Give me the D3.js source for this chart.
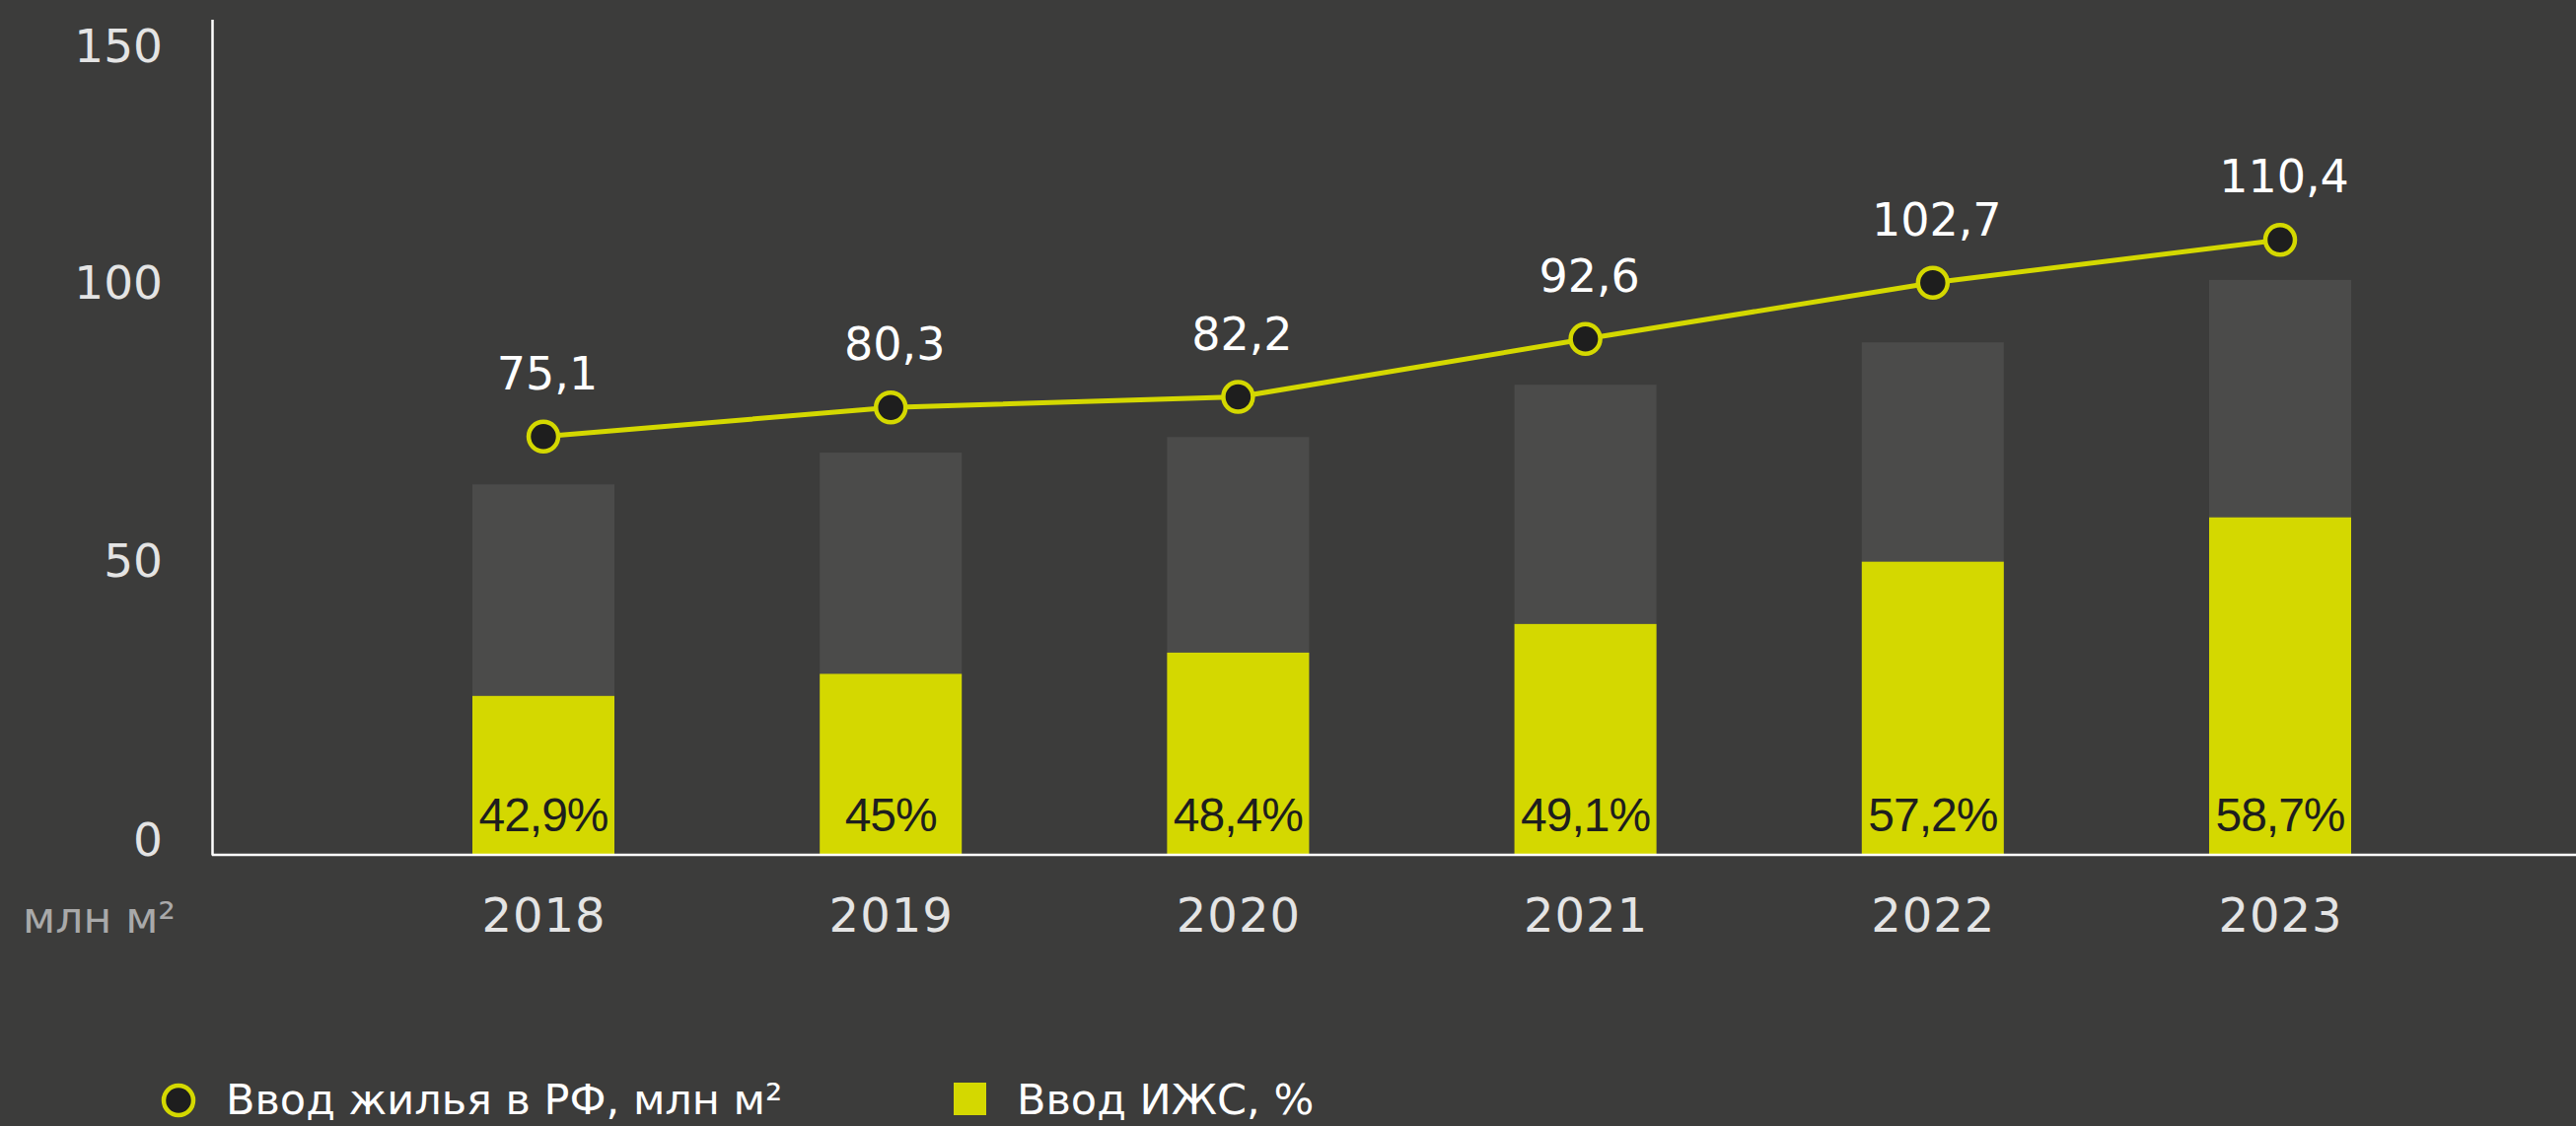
<!DOCTYPE html>
<html>
    <head>
        <meta charset="utf-8">
        <title>Ввод жилья в РФ</title>
        <script src="https://d3js.org/d3.v7.min.js"></script>
        <style>
            body { margin: 0; background: #3c3c3b; }
        </style>
    </head>
    <body>
        <script>
            const width = 2612;
            const height = 1142;

            // data
            const years = ["2018", "2019", "2020", "2021", "2022", "2023"];
            const housing = [75.1, 80.3, 82.2, 92.6, 102.7, 110.4];      // млн м²
            const barTotals = [66.5, 72.2, 75.0, 84.4, 92.0, 103.2];     // grey bar height, axis units
            const ihsShare = [42.9, 45, 48.4, 49.1, 57.2, 58.7];         // %
            const yTicks = [0, 50, 100, 150];

            const rows = years.map((y, i) => ({
                year: y, housing: housing[i], total: barTotals[i], share: ihsShare[i]
            }));

            const yellow = "#d4d800";
            const barGrey = "#4b4b4a";
            const dark = "#1e1e1e";

            const ru = d3.formatLocale({decimal: ",", thousands: " ", grouping: [3], currency: ["", " ₽"]});
            const fmtVal = ru.format(".1f");
            const fmtPct = ru.format(".1~f");

            const svg = d3.select("body").append("svg")
                .attr("width", width)
                .attr("height", height)
                .style("background-color", "#3c3c3b")
                .style("display", "block")
            ;

            const x = d3.scalePoint().domain(years).range([551, 2312]);
            const y = d3.scaleLinear().domain([0, 150]).range([867, 19.5]);
            const axisX = 215;
            const barW = 144;

            // y axis
            const gy = svg.append("g")
                .attr("transform", `translate(${axisX},0)`)
                .call(d3.axisLeft(y).tickValues(yTicks).tickSize(0).tickSizeOuter(0).tickPadding(50))
            ;
            gy.select(".domain").attr("stroke", "#ffffff").attr("stroke-width", 2.5);
            gy.selectAll("text")
                .attr("dy", 0)
                .attr("y", d => d === 150 ? 43 : 0)
                .attr("fill", "#e4e4e4")
                .style("font-family", "DejaVu Sans")
                .style("font-size", "47px")
            ;

            // bars
            const bars = svg.append("g");
            bars.selectAll("rect.total")
                .data(rows).join("rect")
                .attr("class", "total")
                .attr("x", d => x(d.year) - barW / 2)
                .attr("width", barW)
                .attr("y", d => y(d.total))
                .attr("height", d => y(0) - y(d.total))
                .attr("fill", barGrey)
            ;
            bars.selectAll("rect.ihs")
                .data(rows).join("rect")
                .attr("class", "ihs")
                .attr("x", d => x(d.year) - barW / 2)
                .attr("width", barW)
                .attr("y", d => y(d.total * d.share / 100))
                .attr("height", d => y(0) - y(d.total * d.share / 100))
                .attr("fill", yellow)
            ;
            bars.selectAll("text")
                .data(rows).join("text")
                .attr("x", d => x(d.year))
                .attr("y", y(0) - 24)
                .attr("text-anchor", "middle")
                .attr("fill", dark)
                .style("font-family", "Liberation Sans")
                .style("font-size", "48px")
                .style("letter-spacing", "-1px")
                .text(d => fmtPct(d.share) + "%")
            ;

            // x axis
            svg.append("line")
                .attr("x1", axisX).attr("x2", width)
                .attr("y1", y(0)).attr("y2", y(0))
                .attr("stroke", "#ffffff").attr("stroke-width", 2.5)
            ;
            const gx = svg.append("g")
                .attr("transform", `translate(0,${y(0)})`)
                .call(d3.axisBottom(x).tickSize(0))
            ;
            gx.select(".domain").remove();
            gx.selectAll("text")
                .attr("y", 78).attr("dy", 0)
                .attr("fill", "#e4e4e4")
                .style("font-family", "DejaVu Sans")
                .style("font-size", "48px")
                .style("letter-spacing", "1px")
            ;

            svg.append("text")
                .attr("x", 178).attr("y", 946)
                .attr("text-anchor", "end")
                .attr("fill", "#a9a9a9")
                .style("font-family", "DejaVu Sans")
                .style("font-size", "44px")
                .text("млн м²")
            ;

            // line
            const line = d3.line().x(d => x(d.year)).y(d => y(d.housing));
            svg.append("path")
                .datum(rows)
                .attr("d", line)
                .attr("fill", "none")
                .attr("stroke", yellow)
                .attr("stroke-width", 5)
            ;
            svg.append("g").selectAll("circle")
                .data(rows).join("circle")
                .attr("cx", d => x(d.year))
                .attr("cy", d => y(d.housing))
                .attr("r", 15)
                .attr("fill", dark)
                .attr("stroke", yellow)
                .attr("stroke-width", 4.5)
            ;
            svg.append("g").selectAll("text")
                .data(rows).join("text")
                .attr("x", d => x(d.year) + 4)
                .attr("y", d => y(d.housing) - 48)
                .attr("text-anchor", "middle")
                .attr("fill", "#ffffff")
                .style("font-family", "DejaVu Sans")
                .style("font-size", "46px")
                .text(d => fmtVal(d.housing))
            ;

            // legend
            const legend = svg.append("g");
            legend.append("circle")
                .attr("cx", 181).attr("cy", 1116).attr("r", 15)
                .attr("fill", dark).attr("stroke", yellow).attr("stroke-width", 4.5)
            ;
            legend.append("text")
                .attr("x", 229).attr("y", 1130)
                .attr("fill", "#ffffff")
                .style("font-family", "DejaVu Sans")
                .style("font-size", "43px")
                .text("Ввод жилья в РФ, млн м²")
            ;
            legend.append("rect")
                .attr("x", 967).attr("y", 1098).attr("width", 33).attr("height", 33)
                .attr("fill", yellow)
            ;
            legend.append("text")
                .attr("x", 1031).attr("y", 1130)
                .attr("fill", "#ffffff")
                .style("font-family", "DejaVu Sans")
                .style("font-size", "43px")
                .text("Ввод ИЖС, %")
            ;
        </script>
    </body>
</html>
